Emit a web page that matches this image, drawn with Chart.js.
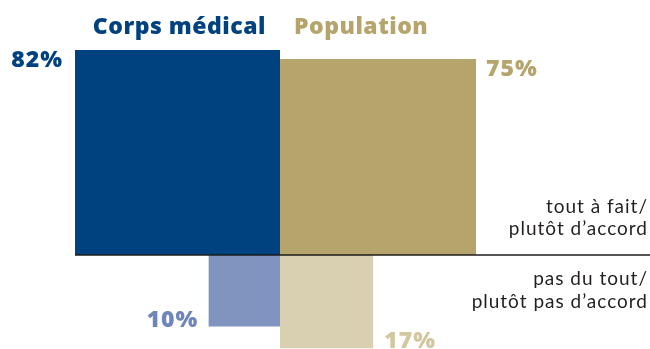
<!DOCTYPE html>
<html lang="fr">
<head>
    <meta charset="UTF-8">
    <title>Corps médical / Population</title>
    <script src="https://cdn.jsdelivr.net/npm/chart.js"></script>
    <style>
        body { margin: 0; background: #fff; }
    </style>
</head>
<body>
    <canvas id="squaresChart" width="650" height="349"></canvas>
    <script>
        // Answers in percent, one entry per group
        const groups = ['Corps médical', 'Population'];
        const agree = [82, 75];
        const disagree = [10, 17];
        const answerLabels = [
            ['tout à fait/', 'plutôt d’accord'],
            ['pas du tout/', 'plutôt pas d’accord']
        ];

        const colors = {
            agree: ['#00427f', '#b5a46b'],
            disagree: ['#8194c0', '#d9d0b1'],
            agreeText: ['#00427f', '#b5a46b'],
            disagreeText: ['#6f86ba', '#d3c79f']
        };

        // Each answer is a square whose area is proportional to its value
        const side = v => Math.sqrt(v);

        // Square as a closed outline filled down to y = 0
        function square(x0, x1, top) {
            return [
                { x: x0, y: 0 }, { x: x0, y: top },
                { x: x1, y: top }, { x: x1, y: 0 }
            ];
        }

        const squares = [
            square(-side(agree[0]), 0, side(agree[0])),
            square(0, side(agree[1]), side(agree[1])),
            square(-side(disagree[0]), 0, -side(disagree[0])),
            square(0, side(disagree[1]), -side(disagree[1]))
        ];
        const squareColors = [colors.agree[0], colors.agree[1], colors.disagree[0], colors.disagree[1]];

        // x and y share the same pixel size per unit so squares stay square
        const UNIT = 22.64;
        const X_MIN = -280 / UNIT, X_MAX = 370 / UNIT;
        const Y_MIN = -94 / UNIT, Y_MAX = 255 / UNIT;

        const datasets = [{
            // baseline between agree and disagree
            data: [{ x: -side(agree[0]), y: 0 }, { x: X_MAX, y: 0 }],
            borderColor: '#1d1d1b',
            borderWidth: 1.5,
            pointRadius: 0,
            fill: false
        }];
        squares.forEach((pts, i) => {
            datasets.push({
                data: pts,
                borderColor: 'transparent',
                borderWidth: 0,
                backgroundColor: squareColors[i],
                pointRadius: 0,
                tension: 0,
                fill: 'origin'
            });
        });

        const textPlugin = {
            id: 'textPlugin',
            afterDraw(chart) {
                const ctx = chart.ctx;
                const x = chart.scales.x;
                const y = chart.scales.y;
                const x0 = x.getPixelForValue(0);
                const y0 = y.getPixelForValue(0);
                ctx.save();
                ctx.textBaseline = 'alphabetic';

                // group titles
                ctx.font = '800 23px "Open Sans"';
                ctx.letterSpacing = '0.5px';
                ctx.fillStyle = colors.agreeText[0];
                ctx.textAlign = 'right';
                ctx.fillText(groups[0], x0 - 14, 34);
                ctx.fillStyle = colors.agreeText[1];
                ctx.textAlign = 'left';
                ctx.fillText(groups[1], x0 + 14, 34);

                // value labels next to each square
                ctx.font = '800 23px "Open Sans"';
                ctx.letterSpacing = '1px';
                const top0 = y.getPixelForValue(side(agree[0]));
                const top1 = y.getPixelForValue(side(agree[1]));
                const bot0 = y.getPixelForValue(-side(disagree[0]));
                const bot1 = y.getPixelForValue(-side(disagree[1]));

                ctx.fillStyle = colors.agreeText[0];
                ctx.textAlign = 'right';
                ctx.fillText(agree[0] + '%', x.getPixelForValue(-side(agree[0])) - 12, top0 + 17);

                ctx.fillStyle = colors.agreeText[1];
                ctx.textAlign = 'left';
                ctx.fillText(agree[1] + '%', x.getPixelForValue(side(agree[1])) + 10, top1 + 17);

                ctx.fillStyle = colors.disagreeText[0];
                ctx.textAlign = 'right';
                ctx.fillText(disagree[0] + '%', x.getPixelForValue(-side(disagree[0])) - 10, bot0);

                ctx.fillStyle = colors.disagreeText[1];
                ctx.textAlign = 'left';
                ctx.fillText(disagree[1] + '%', x.getPixelForValue(side(disagree[1])) + 11, bot1);

                // answer captions on the right
                ctx.font = '19px Lato';
                ctx.letterSpacing = '1px';
                ctx.fillStyle = '#231f20';
                ctx.textAlign = 'right';
                const right = chart.width - 2;
                ctx.fillText(answerLabels[0][0], right, y0 - 42);
                ctx.fillText(answerLabels[0][1], right, y0 - 20);
                ctx.fillText(answerLabels[1][0], right, y0 + 30);
                ctx.fillText(answerLabels[1][1], right, y0 + 53);

                ctx.restore();
            }
        };

        new Chart(document.getElementById('squaresChart'), {
            type: 'line',
            data: { datasets: datasets },
            options: {
                responsive: false,
                animation: false,
                layout: { padding: 0 },
                scales: {
                    x: { type: 'linear', min: X_MIN, max: X_MAX, display: false },
                    y: { type: 'linear', min: Y_MIN, max: Y_MAX, display: false }
                },
                plugins: {
                    legend: { display: false },
                    tooltip: { enabled: false }
                }
            },
            plugins: [textPlugin]
        });
    </script>
</body>
</html>
